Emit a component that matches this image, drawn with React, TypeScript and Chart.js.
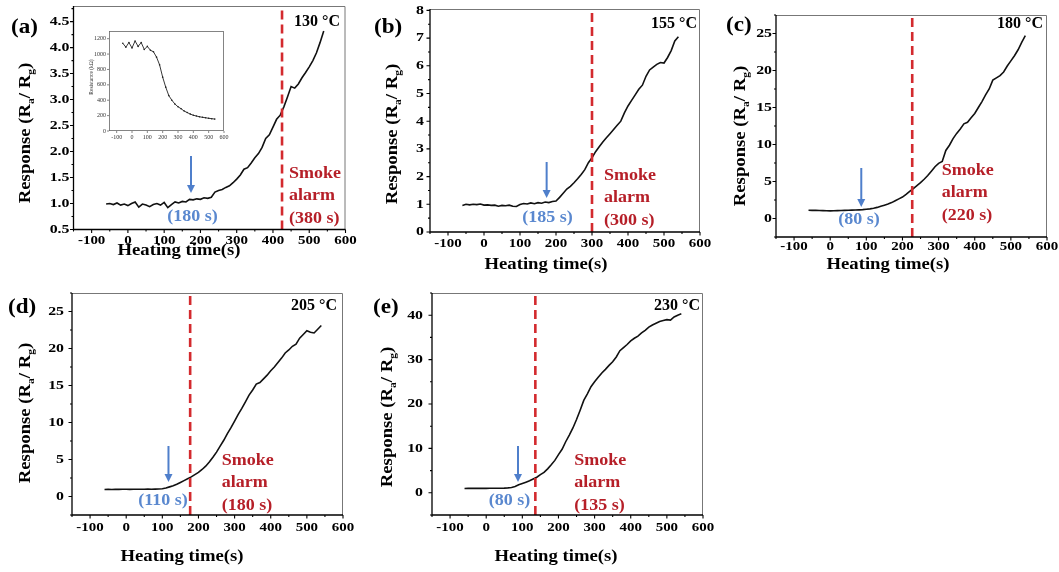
import React, { useEffect, useRef } from "react";
import { Chart, registerables } from "chart.js";

Chart.register(...registerables);

// ---------------- data ----------------
const heatingTime = [-60, -50, -40, -30, -20, -10, 0, 10, 20, 30, 40, 50, 60, 70, 80, 90, 100, 110, 120, 130, 140, 150, 160, 170, 180, 190, 200, 210, 220, 230, 240, 250, 260, 270, 280, 290, 300, 310, 320, 330, 340, 350, 360, 370, 380, 390, 400, 410, 420, 430, 440, 450, 460, 470, 480, 490, 500, 510, 520, 530, 540];

const responseA = [0.99, 1.0, 0.98, 1.01, 0.97, 0.99, 0.96, 1.0, 1.03, 0.93, 0.99, 0.97, 0.94, 0.98, 1.0, 0.97, 1.02, 0.92, 0.98, 1.03, 1.01, 1.04, 1.03, 1.08, 1.07, 1.09, 1.08, 1.11, 1.1, 1.12, 1.22, 1.25, 1.27, 1.31, 1.34, 1.4, 1.47, 1.55, 1.66, 1.69, 1.78, 1.88, 1.96, 2.08, 2.25, 2.32, 2.47, 2.62, 2.7, 2.86, 3.05, 3.25, 3.22, 3.3, 3.42, 3.52, 3.63, 3.75, 3.9, 4.1, 4.32];

const responseB = [0.96, 1.0, 0.98, 1.0, 0.99, 1.01, 0.97, 0.98, 0.96, 0.97, 0.93, 0.96, 0.95, 0.97, 0.93, 0.92, 0.99, 1.03, 1.01, 1.05, 1.02, 1.06, 1.04, 1.08, 1.06, 1.1, 1.12, 1.25, 1.4, 1.55, 1.65, 1.78, 1.92, 2.08, 2.25, 2.5, 2.68, 2.9, 3.08, 3.25, 3.4, 3.55, 3.7, 3.85, 4.0, 4.3, 4.55, 4.75, 4.95, 5.15, 5.3, 5.62, 5.85, 5.95, 6.05, 6.12, 6.1, 6.3, 6.55, 6.9, 7.05];

const responseC = [1.12, 1.1, 1.1, 1.08, 1.07, 1.05, 1.03, 1.05, 1.06, 1.08, 1.1, 1.12, 1.13, 1.15, 1.17, 1.2, 1.25, 1.3, 1.38, 1.5, 1.65, 1.8, 1.95, 2.15, 2.4, 2.65, 2.9, 3.25, 3.65, 4.05, 4.45, 4.85, 5.3, 5.8, 6.4, 7.0, 7.45, 7.7, 9.2, 9.9, 10.8, 11.5, 12.1, 12.8, 13.0, 13.6, 14.2, 15.0, 15.8, 16.7, 17.5, 18.7, 19.0, 19.3, 19.8, 20.6, 21.3, 22.0, 22.8, 23.8, 24.7];

const responseD = [0.95, 0.96, 0.95, 0.97, 0.96, 0.97, 0.97, 0.96, 0.98, 0.97, 0.98, 0.97, 0.99, 0.98, 1.0, 1.02, 1.05, 1.15, 1.3, 1.45, 1.65, 1.9, 2.15, 2.4, 2.65, 2.95, 3.25, 3.65, 4.1, 4.65, 5.3, 6.0, 6.8, 7.6, 8.5, 9.3, 10.2, 11.1, 11.9, 12.8, 13.7, 14.4, 15.2, 15.4, 15.9, 16.4, 17.0, 17.5, 18.1, 18.7, 19.4, 19.8, 20.3, 20.6, 21.4, 21.9, 22.4, 22.2, 22.1, 22.6, 23.1];

const responseE = [0.98, 0.99, 1.0, 0.99, 1.0, 1.01, 1.0, 1.01, 1.02, 1.03, 1.04, 1.06, 1.1, 1.2, 1.4, 1.8, 2.1, 2.4, 2.7, 3.1, 3.5, 4.1, 4.6, 5.4, 6.3, 7.3, 8.6, 9.8, 11.5, 13.0, 14.6, 16.5, 18.6, 20.8, 22.3, 23.9, 25.0, 26.0, 27.0, 27.8, 28.7, 29.5, 30.6, 32.0, 32.7, 33.4, 34.2, 34.8, 35.3, 36.0, 36.6, 37.3, 37.8, 38.2, 38.6, 38.8, 39.0, 38.9, 39.6, 40.0, 40.3];

const insetTime = [-60, -40, -20, 0, 20, 40, 60, 80, 100, 120, 140, 160, 180, 200, 220, 240, 260, 280, 300, 320, 340, 360, 380, 400, 420, 440, 460, 480, 500, 520, 540];
const insetResistance = [1140, 1090, 1150, 1080, 1170, 1100, 1150, 1060, 1100, 1050, 1030, 960, 860, 700, 570, 460, 400, 350, 315, 290, 260, 240, 220, 205, 195, 185, 178, 172, 165, 160, 155];

const xTickValues = [-100, 0, 100, 200, 300, 400, 500, 600];
const yTicksA = [0.5, 1.0, 1.5, 2.0, 2.5, 3.0, 3.5, 4.0, 4.5];
const yTicksB = [0, 1, 2, 3, 4, 5, 6, 7, 8];
const yTicksC = [0, 5, 10, 15, 20, 25];
const yTicksD = [0, 5, 10, 15, 20, 25];
const yTicksE = [0, 10, 20, 30, 40];
const insetXTicks = [-100, 0, 100, 200, 300, 400, 500, 600];
const insetYTicks = [0, 200, 400, 600, 800, 1000, 1200];

const panelLetters = ["(a)", "(b)", "(c)", "(d)", "(e)"];
const temperatures = ["130 °C", "155 °C", "180 °C", "205 °C", "230 °C"];
const onsetLabels = ["(180 s)", "(185 s)", "(80 s)", "(110 s)", "(80 s)"];
const alarmLabels = ["(380 s)", "(300 s)", "(220 s)", "(180 s)", "(135 s)"];
const alarmLineX = [425, 300, 227, 177, 136];
const onsetArrowX = [174, 174, 86, 117, 88];

// ---------------- styles / layout ----------------
const FONT = '"Liberation Serif", "Times New Roman", Times, serif';
const RED_LINE = "#d32a2e";
const RED_TEXT = "#b61f28";
const BLUE_ARROW = "#4f7fcb";
const BLUE_TEXT = "#5a88cf";

type Cfg = {
  idx: number;
  values: number[];
  yTicks: number[];
  yMin: number;
  yMax: number;
  dec: number;
  box: [number, number, number, number];
  area: [number, number, number, number];
  yLabelGap: number;
  xLabelDy: number;
  letter: [number, number];
  temp: [number, number];
  yTitle: [number, number];
  xTitle: [number, number];
  arrow: [number, number];
  onset: [number, number];
  alarm: [number, number];
};

const panels: Cfg[] = [
  { idx: 0, values: responseA, yTicks: yTicksA, yMin: 0.5, yMax: 4.8, dec: 1, box: [0, 0, 362, 276], area: [73.5, 6, 345.5, 229.5], yLabelGap: 4, xLabelDy: 11.5, letter: [11, 33], temp: [340, 26], yTitle: [30, 133], xTitle: [179, 255], arrow: [156, 193], onset: [192.5, 221], alarm: [289, 178] },
  { idx: 1, values: responseB, yTicks: yTicksB, yMin: 0, yMax: 8.05, dec: 0, box: [356, 0, 360, 276], area: [430, 9, 700, 232], yLabelGap: 6, xLabelDy: 12, letter: [374, 33], temp: [697, 28], yTitle: [397, 134], xTitle: [546, 269], arrow: [162, 198], onset: [547.5, 222], alarm: [604, 180] },
  { idx: 2, values: responseC, yTicks: yTicksC, yMin: -2.5, yMax: 27.5, dec: 0, box: [712, 0, 347, 276], area: [776, 15, 1047, 237], yLabelGap: 4, xLabelDy: 10, letter: [726, 31], temp: [1043, 28], yTitle: [745, 136], xTitle: [888, 269], arrow: [168, 207], onset: [859, 224], alarm: [941.7, 175] },
  { idx: 3, values: responseD, yTicks: yTicksD, yMin: -2.5, yMax: 27.5, dec: 0, box: [0, 280, 362, 292], area: [72, 293, 343, 515], yLabelGap: 8, xLabelDy: 13, letter: [8, 313], temp: [337, 310], yTitle: [30, 413], xTitle: [182, 561], arrow: [446, 482], onset: [163, 505], alarm: [221.7, 465] },
  { idx: 4, values: responseE, yTicks: yTicksE, yMin: -5, yMax: 45, dec: 0, box: [356, 280, 364, 292], area: [432, 293, 703, 515], yLabelGap: 9, xLabelDy: 13, letter: [373, 313], temp: [700, 310], yTitle: [392, 417], xTitle: [556, 561], arrow: [446, 482], onset: [509.5, 505], alarm: [574.3, 465] },
];

// ---------------- drawing helpers ----------------
function drawText(
  ctx: CanvasRenderingContext2D,
  s: string,
  x: number,
  y: number,
  size: number,
  color: string,
  align: CanvasTextAlign,
  sx = 1,
  baseline: CanvasTextBaseline = "alphabetic",
  weight = "bold"
) {
  ctx.save();
  ctx.translate(x, y);
  ctx.scale(sx, 1);
  ctx.font = `${weight} ${size}px ${FONT}`;
  ctx.fillStyle = color;
  ctx.textAlign = align;
  ctx.textBaseline = baseline;
  ctx.fillText(s, 0, 0);
  ctx.restore();
}

function drawResponseTitle(ctx: CanvasRenderingContext2D, x: number, y: number, size: number, sx: number) {
  const parts: [string, boolean][] = [
    ["Response (R", false],
    ["a", true],
    ["/ R", false],
    ["g", true],
    [")", false],
  ];
  ctx.save();
  ctx.translate(x, y);
  ctx.rotate(-Math.PI / 2);
  ctx.scale(sx, 1);
  ctx.fillStyle = "#000";
  ctx.textBaseline = "alphabetic";
  ctx.textAlign = "left";
  let total = 0;
  const widths = parts.map(([s, sub]) => {
    ctx.font = `bold ${sub ? size * 0.62 : size}px ${FONT}`;
    const w = ctx.measureText(s).width;
    total += w;
    return w;
  });
  let cx = -total / 2;
  parts.forEach(([s, sub], i) => {
    ctx.font = `bold ${sub ? size * 0.62 : size}px ${FONT}`;
    ctx.fillText(s, cx, sub ? size * 0.22 : 0);
    cx += widths[i];
  });
  ctx.restore();
}

function minorTicks(majors: number[], min: number, max: number) {
  const out: number[] = [];
  for (let i = 0; i < majors.length - 1; i++) out.push((majors[i] + majors[i + 1]) / 2);
  const step = majors[1] - majors[0];
  if (majors[0] - step / 2 >= min) out.unshift(majors[0] - step / 2);
  if (majors[majors.length - 1] + step / 2 <= max) out.push(majors[majors.length - 1] + step / 2);
  return out;
}

function decorPlugin(cfg: Cfg) {
  const [bx, by] = cfg.box;
  const px = (v: number) => v - bx;
  const py = (v: number) => v - by;
  return {
    id: "decor" + cfg.idx,
    afterDraw(chart: any) {
      const ctx: CanvasRenderingContext2D = chart.ctx;
      const { left, top, right, bottom } = chart.chartArea;
      const xs = chart.scales.x;
      const ys = chart.scales.y;
      ctx.save();
      // frame
      ctx.lineCap = "butt";
      ctx.strokeStyle = "#777";
      ctx.lineWidth = 1;
      ctx.beginPath();
      ctx.moveTo(left, top + 0.5);
      ctx.lineTo(right - 0.5, top + 0.5);
      ctx.lineTo(right - 0.5, bottom);
      ctx.stroke();
      ctx.strokeStyle = "#000";
      ctx.lineWidth = 1.3;
      ctx.beginPath();
      ctx.moveTo(left, top);
      ctx.lineTo(left, bottom);
      ctx.lineTo(right, bottom);
      ctx.stroke();
      // ticks
      ctx.lineWidth = 1.1;
      ctx.beginPath();
      xTickValues.forEach((v) => {
        const X = xs.getPixelForValue(v);
        ctx.moveTo(X, bottom);
        ctx.lineTo(X, bottom + 3.5);
      });
      minorTicks(xTickValues, -150, 600).forEach((v) => {
        const X = xs.getPixelForValue(v);
        ctx.moveTo(X, bottom);
        ctx.lineTo(X, bottom + 2);
      });
      cfg.yTicks.forEach((v) => {
        const Y = ys.getPixelForValue(v);
        ctx.moveTo(left, Y);
        ctx.lineTo(left - 3.5, Y);
      });
      minorTicks(cfg.yTicks, cfg.yMin, cfg.yMax).forEach((v) => {
        const Y = ys.getPixelForValue(v);
        ctx.moveTo(left, Y);
        ctx.lineTo(left - 2, Y);
      });
      ctx.stroke();
      // tick labels
      xTickValues.forEach((v) => {
        drawText(ctx, String(v), xs.getPixelForValue(v), bottom + cfg.xLabelDy, 13, "#000", "center", 1.15, "middle");
      });
      cfg.yTicks.forEach((v) => {
        drawText(ctx, v.toFixed(cfg.dec), left - cfg.yLabelGap, ys.getPixelForValue(v), 13, "#000", "right", 1.22, "middle");
      });
      // titles
      drawResponseTitle(ctx, px(cfg.yTitle[0]), py(cfg.yTitle[1]), 17, 1.1);
      drawText(ctx, "Heating time(s)", px(cfg.xTitle[0]), py(cfg.xTitle[1]), 17, "#000", "center", 1.1);
      drawText(ctx, panelLetters[cfg.idx], px(cfg.letter[0]), py(cfg.letter[1]), 22, "#000", "left", 1.05);
      drawText(ctx, temperatures[cfg.idx], px(cfg.temp[0]), py(cfg.temp[1]), 16, "#000", "right", 1.0);
      // onset arrow
      const ax = xs.getPixelForValue(onsetArrowX[cfg.idx]);
      const a0 = py(cfg.arrow[0]);
      const a1 = py(cfg.arrow[1]);
      ctx.strokeStyle = BLUE_ARROW;
      ctx.fillStyle = BLUE_ARROW;
      ctx.lineWidth = 2;
      ctx.beginPath();
      ctx.moveTo(ax, a0);
      ctx.lineTo(ax, a1 - 7);
      ctx.stroke();
      ctx.beginPath();
      ctx.moveTo(ax - 4, a1 - 8);
      ctx.lineTo(ax + 4, a1 - 8);
      ctx.lineTo(ax, a1);
      ctx.closePath();
      ctx.fill();
      drawText(ctx, onsetLabels[cfg.idx], px(cfg.onset[0]), py(cfg.onset[1]), 17, BLUE_TEXT, "center", 1.06);
      // alarm text
      const alx = px(cfg.alarm[0]);
      const aly = py(cfg.alarm[1]);
      drawText(ctx, "Smoke", alx, aly, 17, RED_TEXT, "left", 1.06);
      drawText(ctx, "alarm", alx, aly + 22, 17, RED_TEXT, "left", 1.06);
      drawText(ctx, alarmLabels[cfg.idx], alx, aly + 44.5, 17, RED_TEXT, "left", 1.06);
      ctx.restore();
    },
  };
}

function Panel({ cfg }: { cfg: Cfg }) {
  const ref = useRef<HTMLCanvasElement>(null);
  useEffect(() => {
    const [bx, by, bw, bh] = cfg.box;
    const [L, T, R, B] = cfg.area;
    const chart = new Chart(ref.current as HTMLCanvasElement, {
      type: "line",
      data: {
        datasets: [
          {
            data: heatingTime.map((t, i) => ({ x: t, y: cfg.values[i] })),
            borderColor: "#111",
            borderWidth: 1.6,
            pointRadius: 0,
            tension: 0,
            order: 1,
          },
          {
            data: [
              { x: alarmLineX[cfg.idx], y: cfg.yMin },
              { x: alarmLineX[cfg.idx], y: cfg.yMax },
            ],
            borderColor: RED_LINE,
            borderWidth: 2.6,
            borderDash: [9, 5],
            pointRadius: 0,
            order: 0,
          },
        ],
      },
      options: {
        responsive: false,
        maintainAspectRatio: false,
        animation: false,
        events: [],
        layout: { autoPadding: false, padding: { left: 0, top: T - by, right: bx + bw - R, bottom: 0 } },
        plugins: { legend: { display: false }, tooltip: { enabled: false } },
        scales: {
          x: {
            type: "linear",
            min: -150,
            max: 600,
            grid: { display: false },
            border: { display: false },
            ticks: { display: false },
            afterFit: (s: any) => {
              s.height = by + bh - B;
            },
          },
          y: {
            type: "linear",
            min: cfg.yMin,
            max: cfg.yMax,
            grid: { display: false },
            border: { display: false },
            ticks: { display: false },
            afterFit: (s: any) => {
              s.width = L - bx;
            },
          },
        },
      } as any,
      plugins: [decorPlugin(cfg)],
    });
    return () => chart.destroy();
  }, []);
  return (
    <canvas
      ref={ref}
      width={cfg.box[2]}
      height={cfg.box[3]}
      style={{ position: "absolute", left: cfg.box[0], top: cfg.box[1], width: cfg.box[2], height: cfg.box[3] }}
    />
  );
}

const insetBox: [number, number, number, number] = [80, 24, 150, 122];
const insetArea: [number, number, number, number] = [109, 31, 224, 131];

function Inset() {
  const ref = useRef<HTMLCanvasElement>(null);
  useEffect(() => {
    const [bx, by, bw, bh] = insetBox;
    const [L, T, R, B] = insetArea;
    const plugin = {
      id: "insetDecor",
      beforeDatasetsDraw(chart: any) {
        const ctx = chart.ctx;
        const { left, top, right, bottom } = chart.chartArea;
        ctx.save();
        ctx.fillStyle = "#fff";
        ctx.fillRect(left, top, right - left, bottom - top);
        ctx.restore();
      },
      afterDraw(chart: any) {
        const ctx: CanvasRenderingContext2D = chart.ctx;
        const { left, top, right, bottom } = chart.chartArea;
        const xs = chart.scales.x;
        const ys = chart.scales.y;
        ctx.save();
        ctx.strokeStyle = "#666";
        ctx.lineWidth = 0.8;
        ctx.strokeRect(left + 0.4, top + 0.4, right - left - 0.8, bottom - top - 0.8);
        ctx.beginPath();
        insetXTicks.forEach((v) => {
          const X = xs.getPixelForValue(v);
          ctx.moveTo(X, bottom);
          ctx.lineTo(X, bottom + 2);
        });
        insetYTicks.forEach((v) => {
          const Y = ys.getPixelForValue(v);
          ctx.moveTo(left, Y);
          ctx.lineTo(left - 2, Y);
        });
        ctx.stroke();
        insetXTicks.forEach((v) => {
          drawText(ctx, String(v), xs.getPixelForValue(v), bottom + 6, 6, "#333", "center", 1, "middle", "normal");
        });
        insetYTicks.forEach((v) => {
          drawText(ctx, String(v), left - 3, ys.getPixelForValue(v), 6, "#333", "right", 1, "middle", "normal");
        });
        ctx.save();
        ctx.translate(12, (top + bottom) / 2 - 4);
        ctx.rotate(-Math.PI / 2);
        ctx.font = `normal 5.5px ${FONT}`;
        ctx.fillStyle = "#333";
        ctx.textAlign = "center";
        ctx.textBaseline = "middle";
        ctx.fillText("Resistance (kΩ)", 0, 0);
        ctx.restore();
        ctx.restore();
      },
    };
    const chart = new Chart(ref.current as HTMLCanvasElement, {
      type: "line",
      data: {
        datasets: [
          {
            data: insetTime.map((t, i) => ({ x: t, y: insetResistance[i] })),
            borderColor: "#222",
            borderWidth: 0.9,
            pointRadius: 0.8,
            pointBackgroundColor: "#222",
            pointBorderWidth: 0,
            tension: 0,
          },
        ],
      },
      options: {
        responsive: false,
        maintainAspectRatio: false,
        animation: false,
        events: [],
        layout: { autoPadding: false, padding: { left: 0, top: T - by, right: bx + bw - R, bottom: 0 } },
        plugins: { legend: { display: false }, tooltip: { enabled: false } },
        scales: {
          x: {
            type: "linear",
            min: -150,
            max: 600,
            grid: { display: false },
            border: { display: false },
            ticks: { display: false },
            afterFit: (s: any) => {
              s.height = by + bh - B;
            },
          },
          y: {
            type: "linear",
            min: 0,
            max: 1300,
            grid: { display: false },
            border: { display: false },
            ticks: { display: false },
            afterFit: (s: any) => {
              s.width = L - bx;
            },
          },
        },
      } as any,
      plugins: [plugin],
    });
    return () => chart.destroy();
  }, []);
  return (
    <canvas
      ref={ref}
      width={insetBox[2]}
      height={insetBox[3]}
      style={{ position: "absolute", left: insetBox[0], top: insetBox[1], width: insetBox[2], height: insetBox[3] }}
    />
  );
}

export default function App() {
  return (
    <div style={{ position: "absolute", left: 0, top: 0, width: 1059, height: 572, background: "#fff", overflow: "hidden" }}>
      {panels.map((p) => (
        <Panel key={p.idx} cfg={p} />
      ))}
      <Inset />
    </div>
  );
}
